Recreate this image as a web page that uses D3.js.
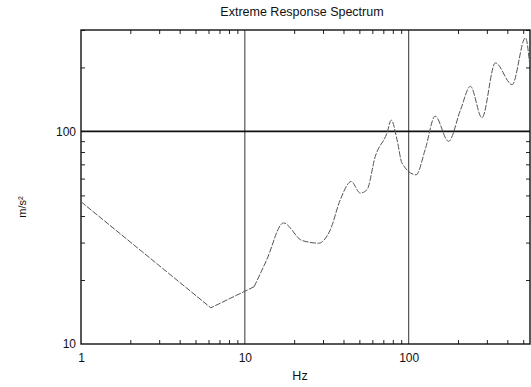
<!DOCTYPE html>
<html>
<head>
<meta charset="utf-8">
<script src="https://cdn.jsdelivr.net/npm/d3@7"></script>
<style>
  html, body { margin: 0; padding: 0; background: #fff; }
  svg { display: block; }
  text { font-family: "Liberation Sans Narrow", "Arial Narrow", "Liberation Sans", Arial, sans-serif; fill: #111; }
</style>
</head>
<body>
<svg id="chart" width="531" height="387"></svg>
<script>
// Extreme response spectrum: frequency (Hz) vs. acceleration (m/s²)
const freq  = [1, 6.2, 11.4, 13.6, 17.2, 22.3, 28.2, 33.2, 38.2, 44.6, 50.6, 55.6, 62.5, 73.7, 78.3, 84.9, 91, 111, 126, 145, 175, 207, 238, 280, 338, 428, 516, 550];
const accel = [46.7, 14.8, 18.6, 24.9, 37.1, 30.7, 29.8, 34.4, 47.6, 58.1, 51.3, 53.1, 76.2, 98.2, 113, 91.4, 71, 62.5, 82, 118, 89.8, 126, 163, 116, 210, 166, 276, 200];
// the low-frequency part (first three points) is drawn with straight segments
const straightCount = 3;

const xTickValues = [1, 10, 100];
const xTickLabels = ["1", "10", "100"];
const yTickValues = [10, 100];
const yTickLabels = ["10", "100"];
const xMinorTicks = [2,3,4,5,6,7,8,9,20,30,40,50,60,70,80,90,200,300,400,500];
const yMinorTicks = [20,30,40,50,60,70,80,90,200,300];

const titleText  = "Extreme Response Spectrum";
const xTitleText = "Hz";
const yTitleText = "m/s²";

const mLeft = 81, mRight = 530, mTop = 30, mBottom = 344;

const svg = d3.select("#chart");

const x = d3.scaleLog().domain([1, 550]).range([mLeft, mRight]);
const y = d3.scaleLog().domain([10, 300]).range([mBottom, mTop]);

// Grid lines at decades
svg.append("g")
  .selectAll("line")
  .data([10, 100])
  .join("line")
  .attr("x1", d => x(d)).attr("x2", d => x(d))
  .attr("y1", mTop).attr("y2", mBottom)
  .attr("stroke", "#333").attr("stroke-width", 1);

svg.append("line")
  .attr("x1", mLeft).attr("x2", mRight)
  .attr("y1", y(100)).attr("y2", y(100))
  .attr("stroke", "#111").attr("stroke-width", 1.8);

// Inward minor ticks on all four sides
const tickLen = 4;
svg.append("g")
  .attr("transform", `translate(0,${mBottom})`)
  .call(d3.axisBottom(x).tickValues(xMinorTicks).tickSize(-tickLen).tickFormat(""))
  .call(g => g.select(".domain").remove())
  .call(g => g.selectAll("line").attr("stroke", "#222"));
svg.append("g")
  .attr("transform", `translate(0,${mTop})`)
  .call(d3.axisTop(x).tickValues(xMinorTicks).tickSize(-tickLen).tickFormat(""))
  .call(g => g.select(".domain").remove())
  .call(g => g.selectAll("line").attr("stroke", "#222"));
svg.append("g")
  .attr("transform", `translate(${mLeft},0)`)
  .call(d3.axisLeft(y).tickValues(yMinorTicks).tickSize(-tickLen).tickFormat(""))
  .call(g => g.select(".domain").remove())
  .call(g => g.selectAll("line").attr("stroke", "#222"));
svg.append("g")
  .attr("transform", `translate(${mRight},0)`)
  .call(d3.axisRight(y).tickValues(yMinorTicks).tickSize(-tickLen).tickFormat(""))
  .call(g => g.select(".domain").remove())
  .call(g => g.selectAll("line").attr("stroke", "#222"));

// Tick labels
svg.append("g")
  .attr("transform", `translate(0,${mBottom})`)
  .call(d3.axisBottom(x).tickValues(xTickValues).tickSize(0).tickPadding(9)
        .tickFormat((d, i) => xTickLabels[i]))
  .call(g => g.select(".domain").remove())
  .call(g => g.selectAll("text").attr("font-size", 12)
        .style("font-family", '"Liberation Sans Narrow", "Liberation Sans", sans-serif'));
svg.append("g")
  .attr("transform", `translate(${mLeft},0)`)
  .call(d3.axisLeft(y).tickValues(yTickValues).tickSize(0).tickPadding(5)
        .tickFormat((d, i) => yTickLabels[i]))
  .call(g => g.select(".domain").remove())
  .call(g => g.selectAll("text").attr("font-size", 12)
        .style("font-family", '"Liberation Sans Narrow", "Liberation Sans", sans-serif'));

// Frame
svg.append("rect")
  .attr("x", mLeft).attr("y", mTop)
  .attr("width", mRight - mLeft).attr("height", mBottom - mTop)
  .attr("fill", "none").attr("stroke", "#111").attr("stroke-width", 1.4);

// Spectrum curve: straight segments at low frequency, smooth resonances above
const pts = freq.map((f, i) => [f, accel[i]]);
const straightLine = d3.line().x(d => x(d[0])).y(d => y(d[1]));
const smoothLine = d3.line().x(d => x(d[0])).y(d => y(d[1])).curve(d3.curveMonotoneX);

const curveG = svg.append("g")
  .attr("fill", "none")
  .attr("stroke", "#555")
  .attr("stroke-width", 1)
  .attr("stroke-dasharray", "6,1.5");
curveG.append("path").attr("d", straightLine(pts.slice(0, straightCount)));
curveG.append("path").attr("d", smoothLine(pts.slice(straightCount - 1)));

// Titles
svg.append("text")
  .attr("x", 302).attr("y", 16)
  .attr("text-anchor", "middle").attr("font-size", 12.5)
  .text(titleText);
svg.append("text")
  .attr("x", 300).attr("y", 380)
  .attr("text-anchor", "middle").attr("font-size", 12.5)
  .text(xTitleText);
svg.append("text")
  .attr("transform", `translate(26,${(mTop + mBottom) / 2 + 20}) rotate(-90)`)
  .attr("text-anchor", "middle").attr("font-size", 11)
  .text(yTitleText);
</script>
</body>
</html>
